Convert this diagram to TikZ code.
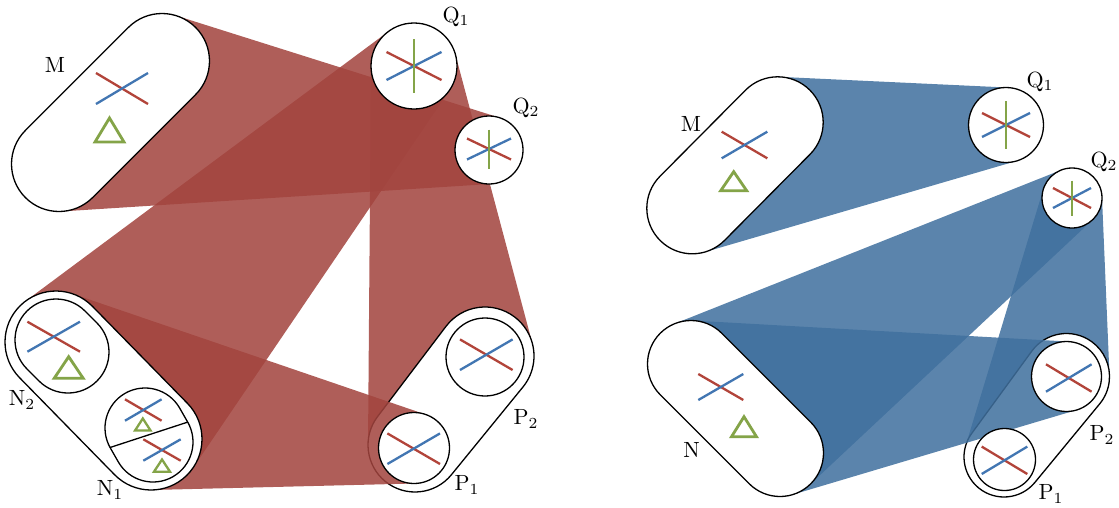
\documentclass[tikz,border=0pt]{standalone}
\usetikzlibrary{calc}

\definecolor{bandred}{RGB}{162,68,62}
\definecolor{bandblue}{RGB}{64,112,158}
\definecolor{xred}{RGB}{178,68,58}
\definecolor{xblue}{RGB}{66,118,178}
\definecolor{xgreen}{RGB}{132,164,72}

% common tangent of two circles: names, circle 1, circle 2, side
\newcommand{\tangent}[9]{%
  \pgfmathsetmacro{\tgA}{atan2(#7-#4,#6-#3)}%
  \pgfmathsetmacro{\tgB}{acos((#5-#8)/veclen(#6-#3,#7-#4))}%
  \pgfmathsetmacro{\tgT}{\tgA+(#9)*\tgB}%
  \coordinate (#1) at ($(#3,#4)+(\tgT:#5)$);%
  \coordinate (#2) at ($(#6,#7)+(\tgT:#8)$);%
}
% rounded hull of two circles
\newcommand{\capsule}[7][]{%
  \pgfmathsetmacro{\tgA}{atan2(#6-#3,#5-#2)}%
  \pgfmathsetmacro{\tgB}{acos((#4-#7)/veclen(#5-#2,#6-#3))}%
  \draw[#1] ($(#2,#3)+(\tgA+\tgB:#4)$) arc[start angle=\tgA+\tgB, end angle=\tgA+360-\tgB, radius=#4]
    -- ($(#5,#6)+(\tgA-\tgB:#7)$) arc[start angle=\tgA-\tgB, end angle=\tgA+\tgB, radius=#7] -- cycle;%
}
\newcommand{\cross}[4]{%
  \draw[xr] (#1-#3,#2-#4) -- (#1+#3,#2+#4);
  \draw[xb] (#1-#3,#2+#4) -- (#1+#3,#2-#4);}
\newcommand{\starmark}[5]{%
  \cross{#1}{#2}{#3}{#4}
  \draw[xg] (#1,#2-#5) -- (#1,#2+#5);}
\newcommand{\tri}[5][xt]{%
  \draw[#1] (#2,#3) -- (#2+#5/2,#4) -- (#2-#5/2,#4) -- cycle;}

\begin{document}
\begin{tikzpicture}[x=1pt, y=-1pt,
    outl/.style={draw=black, line width=1.3pt, fill=white},
    redband/.style={fill=bandred, fill opacity=0.86},
    blueband/.style={fill=bandblue, fill opacity=0.86},
    xr/.style={xred, line width=2.3pt},
    xb/.style={xblue, line width=2.3pt},
    xg/.style={xgreen, line width=2.3pt},
    xt/.style={xgreen, line width=2.8pt},
    xts/.style={xgreen, line width=2.3pt},
    lbl/.style={inner sep=0pt, scale=2.2}]
    \useasboundingbox (0,0) rectangle (1119,507);

    % left: bands under the shapes
    \tangent{mqa}{mqb}{162}{61}{47.5}{489}{150}{34}{-1}
    \tangent{mqd}{mqc}{59}{164}{47.5}{489}{150}{34}{1}
    \fill[redband] (mqa) -- (mqb) -- (mqc) -- (mqd) -- cycle;
    \tangent{qna}{qnb}{56}{342}{51}{414}{66}{43}{-1}
    \tangent{qnd}{qnc}{151}{439}{51}{414}{66}{43}{1}
    \fill[redband] (qna) -- (qnb) -- (qnc) -- (qnd) -- cycle;
    \tangent{qpa}{qpb}{415}{445}{47}{414}{66}{43}{-1}
    \tangent{qpd}{qpc}{485}{356}{49}{414}{66}{43}{1}
    \fill[redband] (qpa) -- (qpb) -- (qpc) -- (qpd) -- cycle;

    \capsule[outl]{485}{356}{49}{415}{445}{47}
    \tangent{npa}{npb}{56}{342}{51}{414}{448}{35.5}{-1}
    \tangent{npd}{npc}{151}{439}{51}{414}{448}{35.5}{1}
    \fill[redband] (npa) -- (npb) -- (npc) -- (npd) -- cycle;

    % left: shapes
    \capsule[outl]{162}{61}{47.5}{59}{164}{47.5}
    \draw[outl] (414,66) circle[radius=43];
    \draw[outl] (489,150) circle[radius=34];
    \capsule[outl]{56}{342}{51}{151}{439}{51}
    \capsule[outl]{56}{340}{41}{68}{352}{41}
    \capsule[outl]{145}{428}{40}{153}{442}{40}
    \draw[black, line width=1.3pt] (110,447.5) -- (188,422);
    \draw[outl] (414,448) circle[radius=35.5];
    \draw[outl] (485,357) circle[radius=39];

    \cross{122}{88.5}{26}{15.5}
    \tri{109.5}{118}{142}{29}
    \starmark{414}{66}{27.5}{14}{27}
    \starmark{489}{149}{22}{10.5}{19.5}
    \cross{53.7}{336.7}{26.3}{15}
    \tri{68.7}{356.7}{378.3}{29}
    \cross{143.3}{410}{18.3}{10.7}
    \tri[xts]{142.8}{418.5}{430.5}{15.5}
    \cross{162}{450}{18.7}{10.7}
    \tri[xts]{162}{459.5}{471.7}{16}
    \cross{486.3}{354.7}{26.3}{15.3}
    \cross{413.7}{448.7}{26.3}{15.3}

    \node[lbl] (lm) at (55,65) {$\mathrm{M}$};
    \node[lbl] (lq1) at (456,17) {$\mathrm{Q}_\mathrm{1}$};
    \node[lbl] (lq2) at (526,108) {$\mathrm{Q}_\mathrm{2}$};
    \node[lbl] (ln2) at (22,400) {$\mathrm{N}_\mathrm{2}$};
    \node[lbl] (ln1) at (110,490) {$\mathrm{N}_\mathrm{1}$};
    \node[lbl] (lp2) at (526,419) {$\mathrm{P}_\mathrm{2}$};
    \node[lbl] (lp1) at (467,485) {$\mathrm{P}_\mathrm{1}$};

    % right: bands under the shapes
    \tangent{ma}{mb}{777.7}{122.3}{45.5}{1006}{125}{37.5}{-1}
    \tangent{md}{mc}{692.3}{208.3}{45.5}{1006}{125}{37.5}{1}
    \fill[blueband] (ma) -- (mb) -- (mc) -- (md) -- cycle;
    \tangent{na}{nb}{691}{364}{43.5}{1072}{198}{30}{-1}
    \tangent{nd}{nc}{780}{453}{43.5}{1072}{198}{30}{1}
    \fill[blueband] (na) -- (nb) -- (nc) -- (nd) -- cycle;
    \tangent{pa}{pb}{1004}{457}{40}{1072}{198}{30}{-1}
    \tangent{pd}{pc}{1066.5}{376.5}{43}{1072}{198}{30}{1}
    \fill[blueband] (pa) -- (pb) -- (pc) -- (pd) -- cycle;

    \capsule[outl]{1066.5}{376.5}{43}{1004}{457}{40}
    \tangent{ra}{rb}{691}{364}{43.5}{1066.5}{376.5}{35}{-1}
    \tangent{rd}{rc}{780}{453}{43.5}{1066.5}{376.5}{35}{1}
    \fill[blueband] (ra) -- (rb) -- (rc) -- (rd) -- cycle;

    % right: shapes
    \capsule[outl]{777.7}{122.3}{45.5}{692.3}{208.3}{45.5}
    \draw[outl] (1006,125) circle[radius=37.5];
    \draw[outl] (1072,198) circle[radius=30];
    \capsule[outl]{691}{364}{43.5}{780}{453}{43.5}
    \draw[outl] (1004.5,459.5) circle[radius=31];
    \draw[outl] (1066.5,376.5) circle[radius=35];

    \cross{744.5}{145}{22.8}{13.3}
    \tri{733.7}{171.7}{190.7}{26}
    \starmark{1006}{125}{24}{12}{23.8}
    \starmark{1072}{198}{19}{10}{17.5}
    \cross{720.8}{387}{22.5}{13}
    \tri{744}{416.7}{436.7}{25}
    \cross{1068.8}{378}{22.8}{13.7}
    \cross{1004.5}{460.3}{22.8}{13.7}

    \node[lbl] (rm) at (691,124) {$\mathrm{M}$};
    \node[lbl] (rq1) at (1040,82) {$\mathrm{Q}_\mathrm{1}$};
    \node[lbl] (rq2) at (1104,162) {$\mathrm{Q}_\mathrm{2}$};
    \node[lbl] (rn) at (691.5,450) {$\mathrm{N}$};
    \node[lbl] (rp2) at (1102,435) {$\mathrm{P}_\mathrm{2}$};
    \node[lbl] (rp1) at (1051,494) {$\mathrm{P}_\mathrm{1}$};
\end{tikzpicture}
\end{document}
